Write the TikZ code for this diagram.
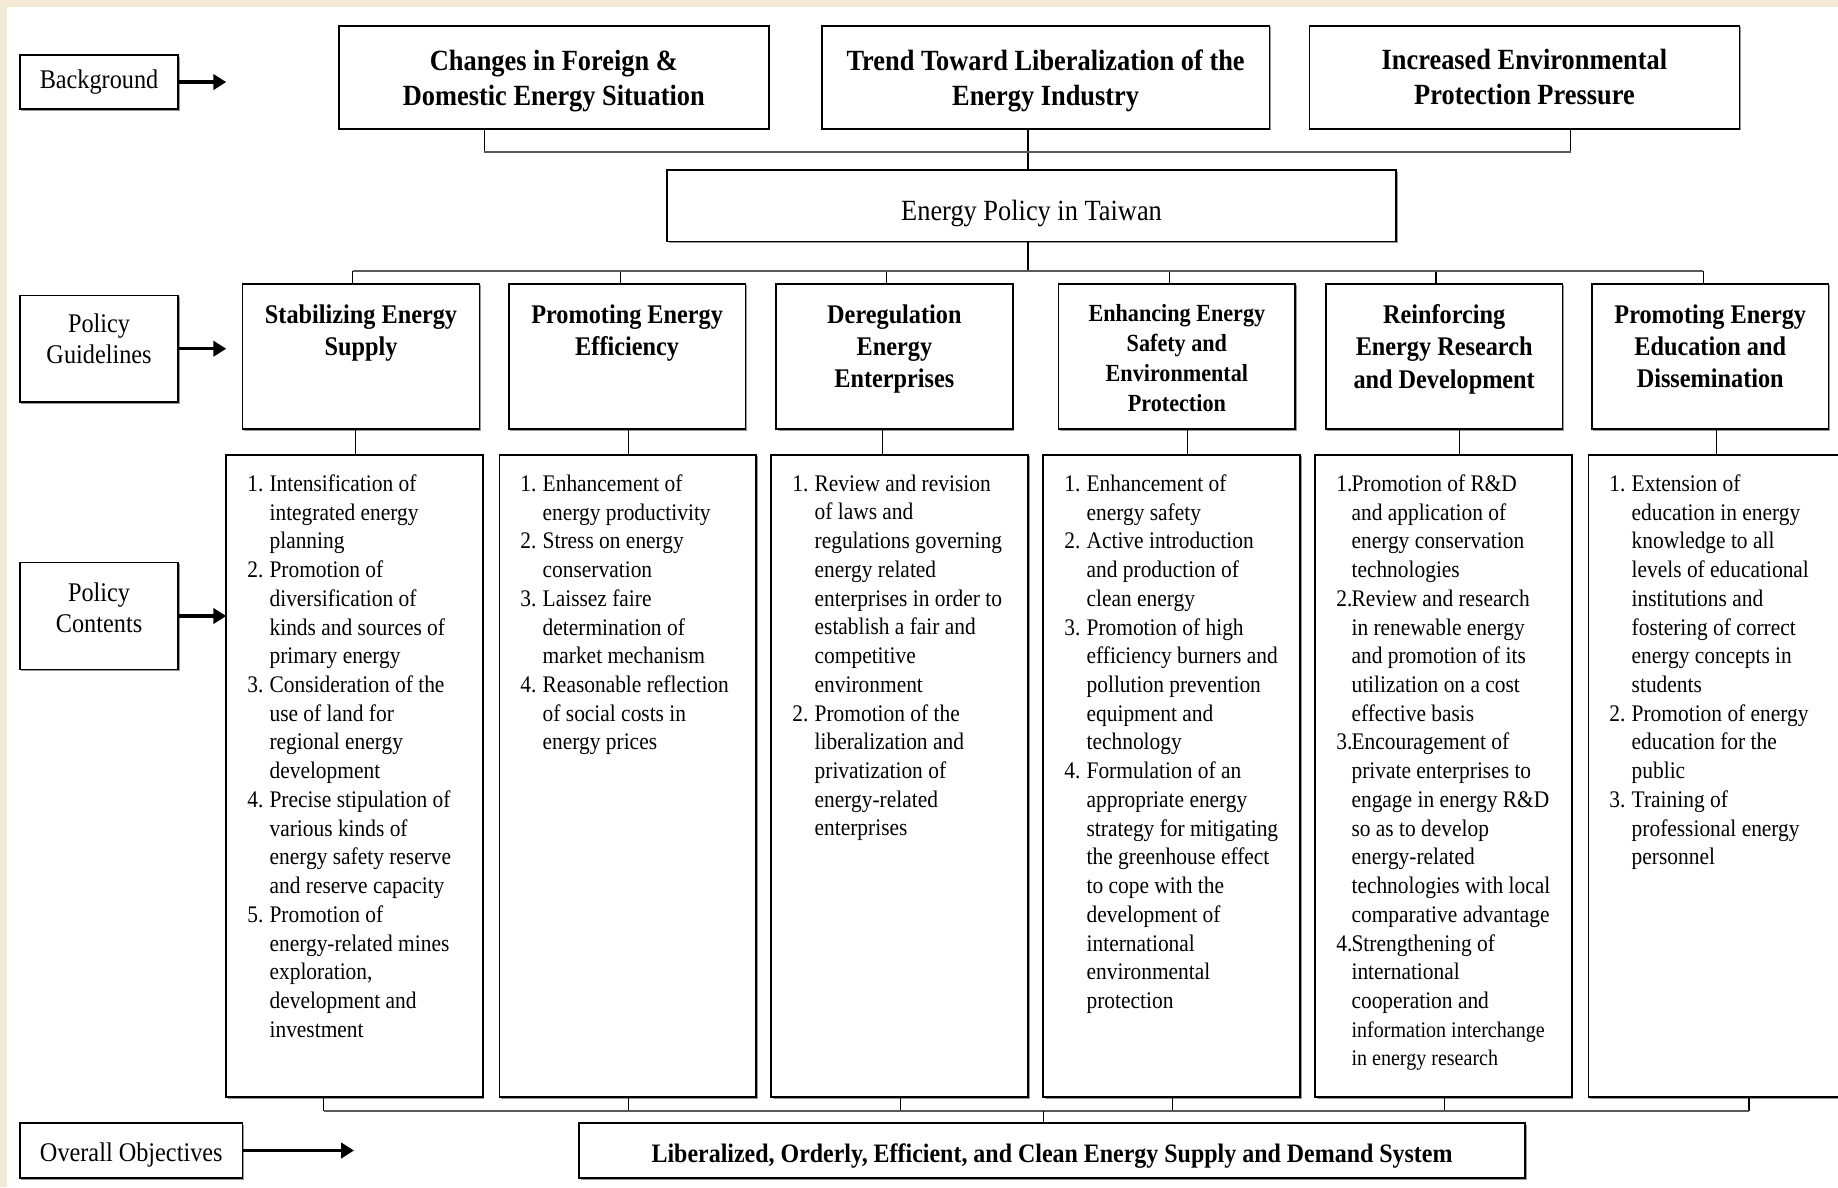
\documentclass[tikz,border=0pt]{standalone}
\usepackage{fontspec}
\setmainfont{Liberation Serif}[FakeStretch=0.9]
\usetikzlibrary{arrows.meta,shadows}

\definecolor{paper}{HTML}{F3EAD6}

\newlength{\numw}
\setlength{\numw}{19pt}
% numbered item with hanging indent
\newcommand{\itm}[2]{\par\hangindent=\numw\hangafter=1\makebox[\numw][l]{#1}#2}
% text of a contents box
\newcommand{\plist}[1]{\parbox[t][548pt][t]{219pt}{\fontsize{20.3}{24.5}\selectfont
  \leftskip=18pt\rightskip=0pt plus 1fil\vspace*{17pt}#1}}
% title of a guideline box
\newcommand{\gtitle}[1]{\parbox[t][124pt][t]{202pt}{\centering\bfseries
  \fontsize{23}{27.5}\selectfont\vspace*{18pt}#1}}
\newcommand{\lift}[1]{\rule[-#1]{0pt}{#1}}

\begin{document}
\begin{tikzpicture}[x=1pt,y=-1pt,
    every node/.style={inner sep=0pt, outer sep=0pt},
    frame/.style={draw=black, line width=1.4pt, fill=white, anchor=north west,
      drop shadow={shadow xshift=1.3pt, shadow yshift=-1.3pt, fill=black!40, opacity=1}},
    head/.style={frame, align=center, font=\bfseries\fontsize{25}{30}\selectfont},
    side/.style={frame, align=center, font=\fontsize{23}{27}\selectfont},
    link/.style={draw=black, line width=1pt},
    bus/.style={draw=black!65, line width=1.6pt},
    bigarrow/.style={line width=3pt, -{Triangle[length=11pt, width=13pt]}}]
    \clip (0,0) rectangle (1568,1013);
    \fill[paper] (0,0) rectangle (1568,1013);
    \fill[white] (6,6) rectangle (1568,1013);

    % background
    \node[side, minimum width=135pt, minimum height=46pt] (bg) at (17,47) {Background};
    \node[head, minimum width=367pt, minimum height=88pt] (t1) at (289,22) {\rule{0pt}{23pt}Changes in Foreign \&\\Domestic Energy Situation};
    \node[head, minimum width=382pt, minimum height=88pt] (t2) at (701,22) {\rule{0pt}{23pt}Trend Toward Liberalization of the\\Energy Industry};
    \node[head, minimum width=367pt, minimum height=88pt] (t3) at (1117,22) {Increased Environmental\\Protection Pressure};
    \node[frame, font=\fontsize{25}{30}\selectfont, minimum width=622pt, minimum height=61pt] (ep) at (569,145) {\rule{0pt}{31pt}Energy Policy in Taiwan};

    % guidelines
    \node[side, minimum width=135pt, minimum height=91pt] (pg) at (17,252) {Policy\\Guidelines\lift{17pt}};
    \node[frame] (g1) at (207,242) {\gtitle{Stabilizing Energy\\Supply}};
    \node[frame] (g2) at (434,242) {\gtitle{Promoting Energy\\Efficiency}};
    \node[frame] (g3) at (662,242) {\gtitle{Deregulation\\Energy\\Enterprises}};
    \node[frame] (g4) at (903,242) {\gtitle{\fontsize{21}{25.5}\selectfont Enhancing Energy\\Safety and\\Environmental\\Protection}};
    \node[frame] (g5) at (1131,242) {\gtitle{Reinforcing\\Energy Research\\and Development}};
    \node[frame] (g6) at (1358,242) {\gtitle{Promoting Energy\\Education and\\Dissemination}};

    % contents
    \node[side, minimum width=135pt, minimum height=91pt] (pc) at (17,480) {Policy\\Contents\lift{14pt}};
    \node[frame] (c1) at (193,388) {\plist{%
      \itm{1.}{Intensification of\\integrated energy\\planning}
      \itm{2.}{Promotion of\\diversification of\\kinds and sources of\\primary energy}
      \itm{3.}{Consideration of the\\use of land for\\regional energy\\development}
      \itm{4.}{Precise stipulation of\\various kinds of\\energy safety reserve\\and reserve capacity}
      \itm{5.}{Promotion of\\energy-related mines\\exploration,\\development and\\investment}}};
    \node[frame] (c2) at (426,388) {\plist{%
      \itm{1.}{Enhancement of\\energy productivity}
      \itm{2.}{Stress on energy\\conservation}
      \itm{3.}{Laissez faire\\determination of\\market mechanism}
      \itm{4.}{Reasonable reflection\\of social costs in\\energy prices}}};
    \node[frame] (c3) at (658,388) {\plist{%
      \itm{1.}{Review and revision\\of laws and\\regulations governing\\energy related\\enterprises in order to\\establish a fair and\\competitive\\environment}
      \itm{2.}{Promotion of the\\liberalization and\\privatization of\\energy-related\\enterprises}}};
    \node[frame] (c4) at (890,388) {\plist{%
      \itm{1.}{Enhancement of\\energy safety}
      \itm{2.}{Active introduction\\and production of\\clean energy}
      \itm{3.}{Promotion of high\\efficiency burners and\\pollution prevention\\equipment and\\technology}
      \itm{4.}{Formulation of an\\appropriate energy\\strategy for mitigating\\the greenhouse effect\\to cope with the\\development of\\international\\environmental\\protection}}};
    \node[frame] (c5) at (1122,388) {\plist{\setlength{\numw}{13pt}%
      \itm{1.}{Promotion of R\&D\\and application of\\energy conservation\\technologies}
      \itm{2.}{Review and research\\in renewable energy\\and promotion of its\\utilization on a cost\\effective basis}
      \itm{3.}{Encouragement of\\private enterprises to\\engage in energy R\&D\\so as to develop\\energy-related\\technologies with local\\comparative advantage}
      \itm{4.}{Strengthening of\\international\\cooperation and\\{\fontsize{19}{24.5}\selectfont information interchange}\\{\fontsize{19}{24.5}\selectfont in energy research}}}};
    \node[frame] (c6) at (1355,388) {\plist{%
      \itm{1.}{Extension of\\education in energy\\knowledge to all\\levels of educational\\institutions and\\fostering of correct\\energy concepts in\\students}
      \itm{2.}{Promotion of energy\\education for the\\public}
      \itm{3.}{Training of\\professional energy\\personnel}}};

    % objectives
    \node[side, minimum width=190pt, minimum height=47pt] (oo) at (17,958) {\rule{0pt}{24pt}Overall Objectives};
    \node[frame, font=\bfseries\fontsize{22.7}{27}\selectfont, minimum width=807pt, minimum height=47pt] (ob) at (494,958) {\rule{0pt}{25pt}Liberalized, Orderly, Efficient, and Clean Energy Supply and Demand System};

    % top bus
    \coordinate (b1) at (413,130);
    \coordinate (b2) at (877,130);
    \coordinate (b3) at (1340,130);
    \draw[link] (b1 |- t1.south) -- (b1);
    \draw[link] (b3 |- t3.south) -- (b3);
    \draw[link] (b2 |- t2.south) -- (b2 |- ep.north);
    \draw[bus] (b1) -- (b3);

    % guideline bus
    \coordinate (m0) at (877,231);
    \draw[link] (b2 |- ep.south) -- (m0);
    \foreach \i/\x in {1/301,2/529,3/756,4/998,5/1225,6/1453}{
        \coordinate (m\i) at (\x,231);
        \draw[link] (m\i) -- (m\i |- g\i.north);
    }
    \draw[bus] (m1) -- (m6);

    % guidelines to contents
    \foreach \i/\x in {1/303,2/536,3/753,4/1013,5/1245,6/1464}{
        \coordinate (u\i) at (\x,0);
        \draw[link] (u\i |- g\i.south) -- (u\i |- c\i.north);
    }

    % contents to objective
    \foreach \i/\x in {1/276,2/536,3/768,4/1000,5/1232,6/1492}{
        \coordinate (d\i) at (\x,948);
        \draw[link] (d\i |- c\i.south) -- (d\i);
    }
    \draw[bus] (d1) -- (d6);
    \coordinate (d0) at (890,948);
    \draw[link] (d0) -- (d0 |- ob.north);

    % arrows
    \draw[bigarrow] (bg.east) -- (bg.east -| c1.west);
    \draw[bigarrow] (pg.east) -- (pg.east -| c1.west);
    \draw[bigarrow] (pc.east) -- (pc.east -| c1.west);
    \coordinate (oa) at (302,982);
    \draw[bigarrow] (oo.east) -- (oa |- oo.east);
\end{tikzpicture}
\end{document}
